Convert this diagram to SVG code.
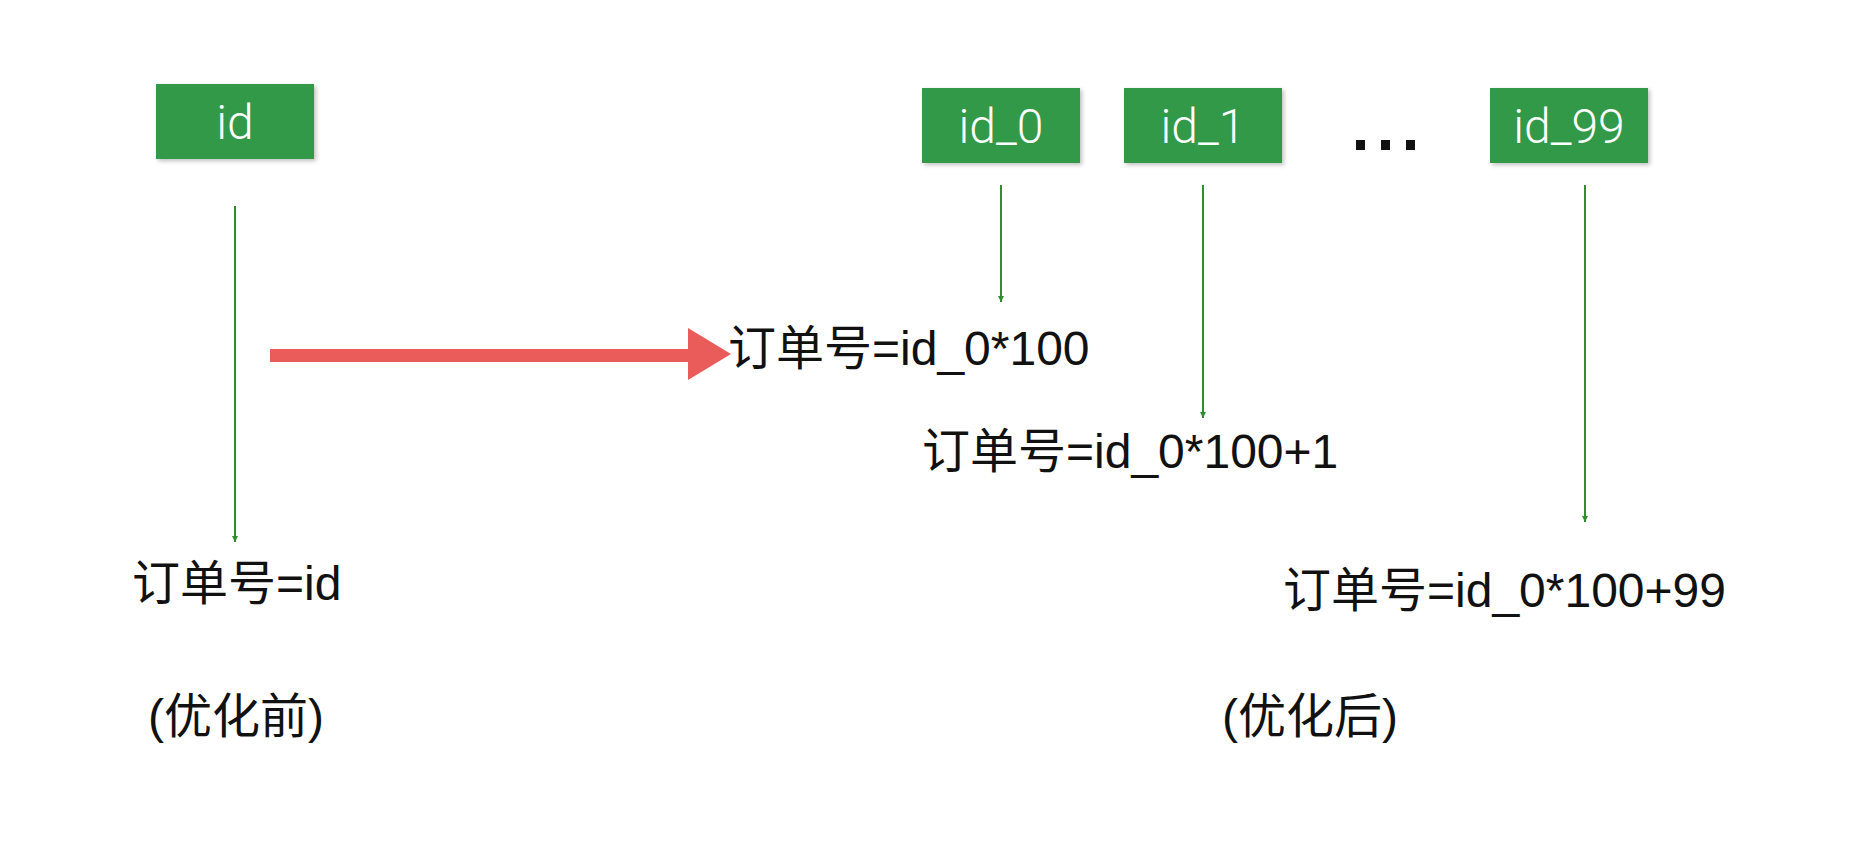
<svg xmlns="http://www.w3.org/2000/svg" width="1872" height="850" viewBox="0 0 1872 850">
<style>
.box{fill:#33994a;}
.bt{font-family:"Roboto","Liberation Sans",sans-serif;font-weight:300;font-size:48px;fill:#ffffff;text-anchor:middle;}
.t{font-family:"Liberation Sans","Noto Sans CJK SC",sans-serif;font-size:48px;fill:#111111;}
.ln{stroke:#2f8f2f;stroke-width:2;fill:none;marker-end:url(#ah);}
</style>
<defs>
<marker id="ah" viewBox="0 0 10 10" refX="10" refY="5" markerWidth="6" markerHeight="6" orient="auto" markerUnits="userSpaceOnUse">
<path d="M0,0 L10,5 L0,10 z" fill="#2f8f2f"/>
</marker>
<filter id="sh" x="-10%" y="-10%" width="130%" height="140%">
<feDropShadow dx="2" dy="2" stdDeviation="2" flood-color="#000" flood-opacity="0.25"/>
</filter>
</defs>
<rect width="1872" height="850" fill="#ffffff"/>
<g id="connectors">
<line class="ln" x1="235" y1="206" x2="235" y2="542"/>
<line class="ln" x1="1001" y1="185" x2="1001" y2="302"/>
<line class="ln" x1="1203" y1="185" x2="1203" y2="418"/>
<line class="ln" x1="1585" y1="185" x2="1585" y2="522"/>
<g id="red-arrow" fill="#e95c5a">
<rect x="270" y="349" width="425" height="13"/>
<path d="M688,328 L731,354 L688,380 z"/>
</g>
</g>
<g id="node-id">
<rect class="box" x="156" y="84" width="158" height="75" filter="url(#sh)"/>
<text class="bt" x="235" y="139">id</text>
</g>
<g id="node-id0">
<rect class="box" x="922" y="88" width="158" height="75" filter="url(#sh)"/>
<text class="bt" x="1001" y="143">id_0</text>
</g>
<g id="node-id1">
<rect class="box" x="1124" y="88" width="158" height="75" filter="url(#sh)"/>
<text class="bt" x="1203" y="143">id_1</text>
</g>
<g id="node-dots" fill="#111111">
<rect x="1356" y="140" width="9" height="10"/>
<rect x="1381" y="140" width="9" height="10"/>
<rect x="1406" y="140" width="9" height="10"/>
</g>
<g id="node-id99">
<rect class="box" x="1490" y="88" width="158" height="75" filter="url(#sh)"/>
<text class="bt" x="1569" y="143">id_99</text>
</g>
<g id="label-before">
<text class="t" x="132" y="600">订单号=id</text>
</g>
<g id="label-0">
<text class="t" x="728" y="365">订单号=id_0*100</text>
</g>
<g id="label-1">
<text class="t" x="922" y="468">订单号=id_0*100+1</text>
</g>
<g id="label-99">
<text class="t" x="1283" y="607">订单号=id_0*100+99</text>
</g>
<g id="caption-before">
<text class="t" x="148" y="733">(优化前)</text>
</g>
<g id="caption-after">
<text class="t" x="1222" y="733">(优化后)</text>
</g>
</svg>
